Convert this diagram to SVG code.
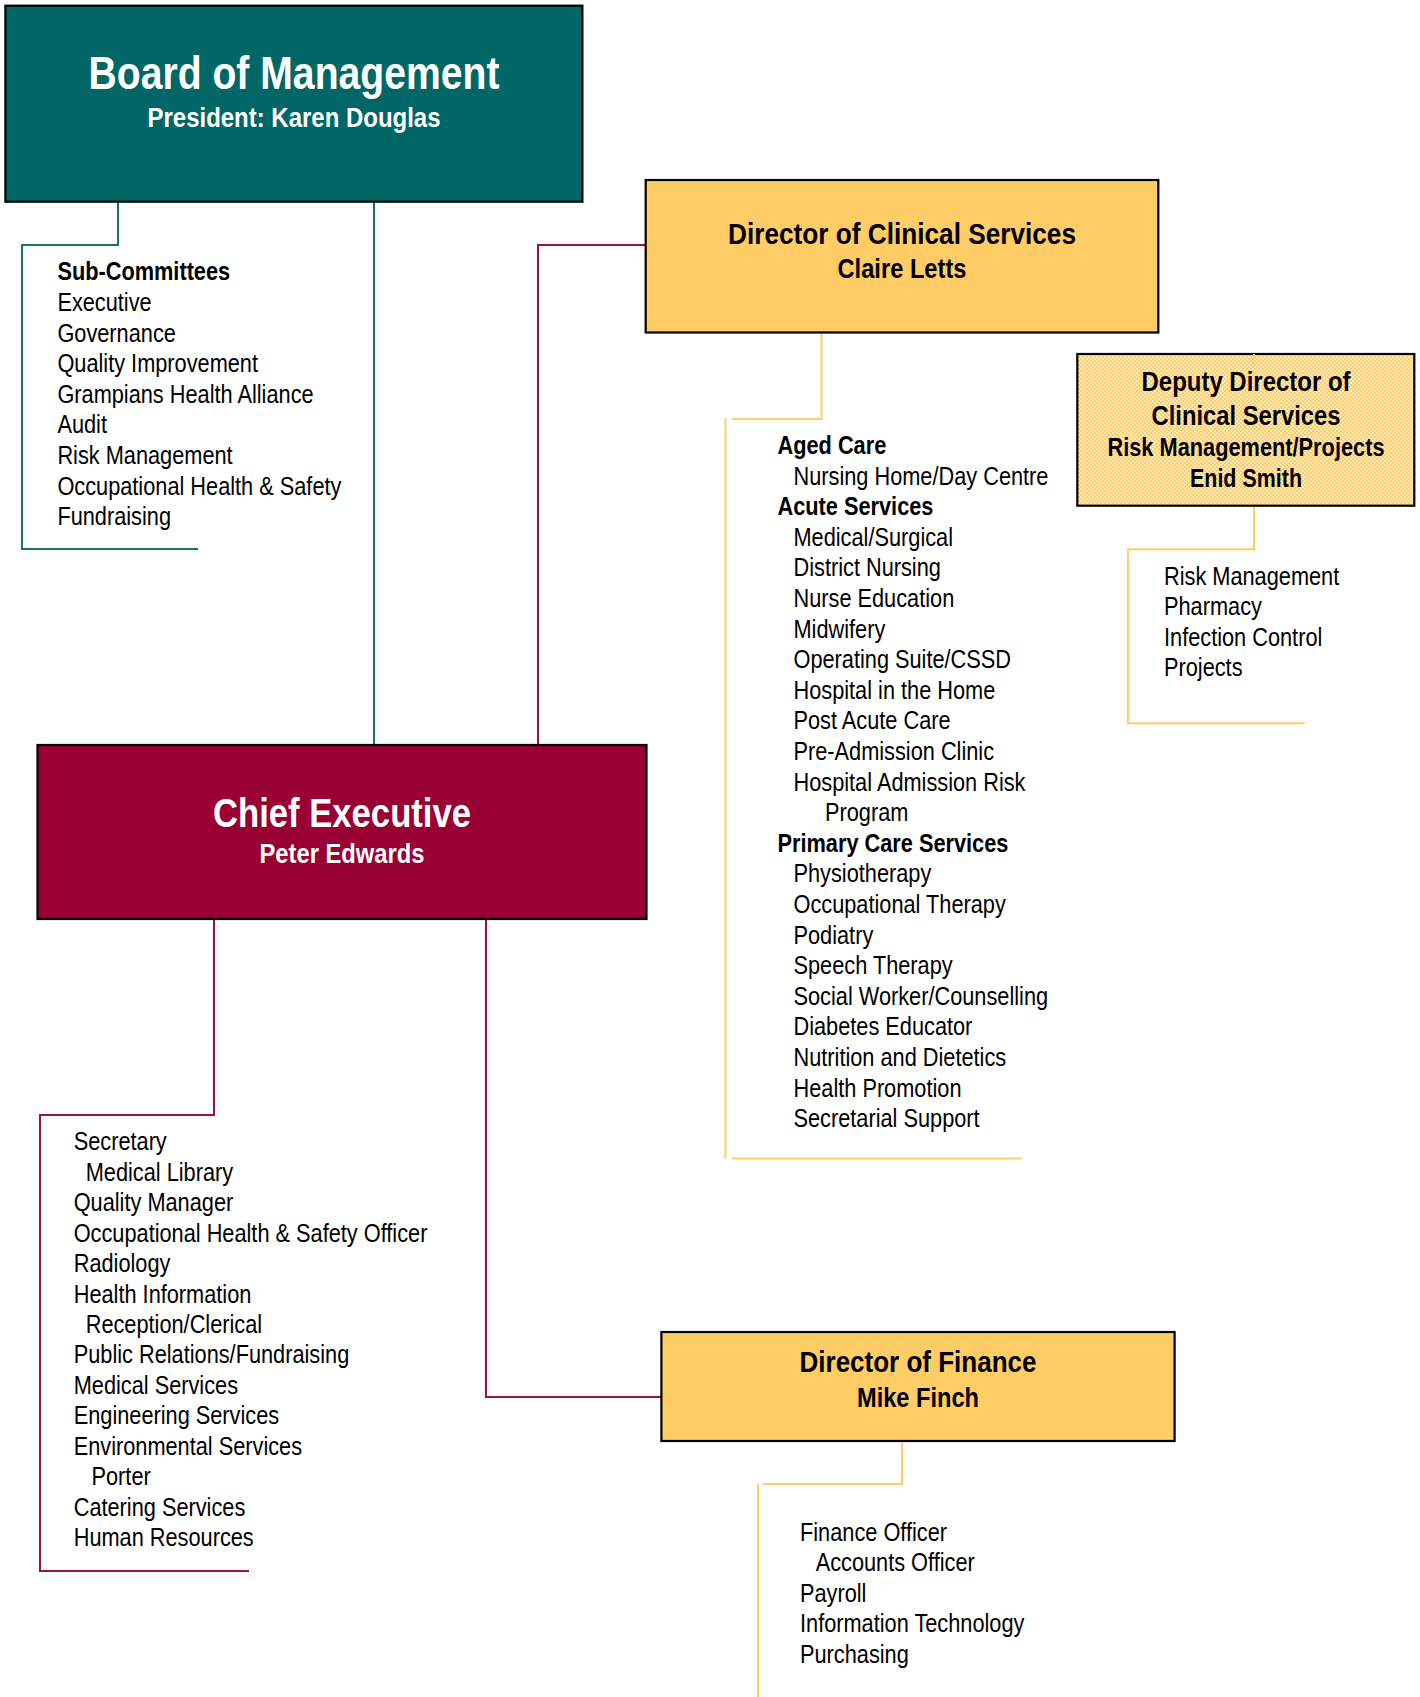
<svg xmlns="http://www.w3.org/2000/svg" width="1420" height="1697" viewBox="0 0 1420 1697">
<defs>
<pattern id="dots" width="4" height="4" patternUnits="userSpaceOnUse">
<rect width="4" height="4" fill="#FFCC66"/>
<rect x="0" y="0" width="2" height="2" fill="#FFEBC2"/>
<rect x="2" y="2" width="2" height="2" fill="#FFEBC2"/>
</pattern>
<style>
text{font-family:"Liberation Sans",Arial,sans-serif;}
.box{stroke:#000;stroke-width:2.2;}
.teal{fill:#006666;}
.red{fill:#990033;}
.yel{fill:#FFCC66;}
.wt{fill:#fff;font-weight:bold;text-anchor:middle;}
.bt{fill:#000;font-weight:bold;text-anchor:middle;}
.li{font-size:25px;fill:#000;}
.hd{font-weight:bold;}
.c{fill:none;stroke-width:2;}
.ct{stroke:#137272;}
.cr{stroke:#A0103E;}
.cy{stroke:#FFCC66;}
</style>
</defs>
<rect width="1420" height="1697" fill="#fff"/>

<g id="connectors">
<path class="c ct" d="M118 202 V245 H22 V549 H198"/>
<path class="c ct" d="M374 202 V745"/>
<path class="c cr" d="M538 745 V245 H646"/>
<path class="c cr" d="M214 919 V1115 H40 V1571 H249"/>
<path class="c cr" d="M486 919 V1397 H662"/>
<path class="c cy" d="M821.5 332.5 V419 H732"/>
<path class="c cy" d="M725.5 418 V1158.5"/>
<path class="c cy" d="M732 1158.5 H1021"/>
<path class="c cy" d="M1254 506 V549.3 H1128 V723.3 H1305"/>
<path class="c cy" d="M902 1441 V1484 H763"/>
<path class="c cy" d="M758 1484 V1697"/>
</g>

<g id="board">
<rect class="box teal" x="5.4" y="5.7" width="577" height="196"/>
<text class="wt" x="294" y="88.6" font-size="46" textLength="411" lengthAdjust="spacingAndGlyphs">Board of Management</text>
<text class="wt" x="294" y="126.8" font-size="27" textLength="293" lengthAdjust="spacingAndGlyphs">President: Karen Douglas</text>
</g>

<g id="subcommittees" transform="translate(57.4,0) scale(0.87,1)">
<text class="li hd" x="0" y="280.4">Sub-Committees</text>
<text class="li" x="0" y="311">Executive</text>
<text class="li" x="0" y="341.6">Governance</text>
<text class="li" x="0" y="372.2">Quality Improvement</text>
<text class="li" x="0" y="402.8">Grampians Health Alliance</text>
<text class="li" x="0" y="433.4">Audit</text>
<text class="li" x="0" y="464">Risk Management</text>
<text class="li" x="0" y="494.6">Occupational Health &amp; Safety</text>
<text class="li" x="0" y="525.2">Fundraising</text>
</g>

<g id="clinical">
<rect class="box yel" x="645.7" y="180" width="512.6" height="152.5"/>
<text class="bt" x="902" y="244.3" font-size="30" textLength="348" lengthAdjust="spacingAndGlyphs">Director of Clinical Services</text>
<text class="bt" x="902" y="277.9" font-size="27" textLength="129" lengthAdjust="spacingAndGlyphs">Claire Letts</text>
</g>

<g id="deputy">
<rect class="box" fill="url(#dots)" x="1077.3" y="354" width="337" height="151.7"/>
<text class="bt" x="1246" y="391" font-size="27.5" textLength="209" lengthAdjust="spacingAndGlyphs">Deputy Director of</text>
<text class="bt" x="1246" y="424.5" font-size="27.5" textLength="189" lengthAdjust="spacingAndGlyphs">Clinical Services</text>
<text class="bt" x="1246" y="456" font-size="25" textLength="277" lengthAdjust="spacingAndGlyphs">Risk Management/Projects</text>
<text class="bt" x="1246" y="486.5" font-size="25" textLength="112" lengthAdjust="spacingAndGlyphs">Enid Smith</text>
</g>
<path class="c cy" d="M1254 354 V365"/>

<g id="clinical-list" transform="translate(777.5,0) scale(0.87,1)">
<text class="li hd" x="0" y="454">Aged Care</text>
<text class="li" x="18.4" y="484.6">Nursing Home/Day Centre</text>
<text class="li hd" x="0" y="515.2">Acute Services</text>
<text class="li" x="18.4" y="545.8">Medical/Surgical</text>
<text class="li" x="18.4" y="576.4">District Nursing</text>
<text class="li" x="18.4" y="607">Nurse Education</text>
<text class="li" x="18.4" y="637.6">Midwifery</text>
<text class="li" x="18.4" y="668.2">Operating Suite/CSSD</text>
<text class="li" x="18.4" y="698.8">Hospital in the Home</text>
<text class="li" x="18.4" y="729.4">Post Acute Care</text>
<text class="li" x="18.4" y="760">Pre-Admission Clinic</text>
<text class="li" x="18.4" y="790.6">Hospital Admission Risk</text>
<text class="li" x="54.6" y="821.2">Program</text>
<text class="li hd" x="0" y="851.8">Primary Care Services</text>
<text class="li" x="18.4" y="882.4">Physiotherapy</text>
<text class="li" x="18.4" y="913">Occupational Therapy</text>
<text class="li" x="18.4" y="943.6">Podiatry</text>
<text class="li" x="18.4" y="974.2">Speech Therapy</text>
<text class="li" x="18.4" y="1004.8">Social Worker/Counselling</text>
<text class="li" x="18.4" y="1035.4">Diabetes Educator</text>
<text class="li" x="18.4" y="1066">Nutrition and Dietetics</text>
<text class="li" x="18.4" y="1096.6">Health Promotion</text>
<text class="li" x="18.4" y="1127.2">Secretarial Support</text>
</g>

<g id="deputy-list" transform="translate(1164,0) scale(0.87,1)">
<text class="li" x="0" y="585">Risk Management</text>
<text class="li" x="0" y="615.3">Pharmacy</text>
<text class="li" x="0" y="645.6">Infection Control</text>
<text class="li" x="0" y="676">Projects</text>
</g>

<g id="chief">
<rect class="box red" x="37.5" y="745" width="609" height="174"/>
<text class="wt" x="342" y="826.7" font-size="41" textLength="258" lengthAdjust="spacingAndGlyphs">Chief Executive</text>
<text class="wt" x="342" y="862.7" font-size="27" textLength="165" lengthAdjust="spacingAndGlyphs">Peter Edwards</text>
</g>

<g id="chief-list" transform="translate(73.7,0) scale(0.87,1)">
<text class="li" x="0" y="1150.3">Secretary</text>
<text class="li" x="13.8" y="1180.8">Medical Library</text>
<text class="li" x="0" y="1211.2">Quality Manager</text>
<text class="li" x="0" y="1241.7">Occupational Health &amp; Safety Officer</text>
<text class="li" x="0" y="1272.1">Radiology</text>
<text class="li" x="0" y="1302.6">Health Information</text>
<text class="li" x="13.8" y="1333">Reception/Clerical</text>
<text class="li" x="0" y="1363.5">Public Relations/Fundraising</text>
<text class="li" x="0" y="1394">Medical Services</text>
<text class="li" x="0" y="1424.4">Engineering Services</text>
<text class="li" x="0" y="1454.9">Environmental Services</text>
<text class="li" x="20.5" y="1485.3">Porter</text>
<text class="li" x="0" y="1515.8">Catering Services</text>
<text class="li" x="0" y="1546.3">Human Resources</text>
</g>

<g id="finance">
<rect class="box yel" x="661.4" y="1332" width="513.2" height="109"/>
<text class="bt" x="918" y="1372.3" font-size="30" textLength="237" lengthAdjust="spacingAndGlyphs">Director of Finance</text>
<text class="bt" x="918" y="1406.7" font-size="27" textLength="122" lengthAdjust="spacingAndGlyphs">Mike Finch</text>
</g>

<g id="finance-list" transform="translate(800,0) scale(0.87,1)">
<text class="li" x="0" y="1540.7">Finance Officer</text>
<text class="li" x="18" y="1571.2">Accounts Officer</text>
<text class="li" x="0" y="1601.7">Payroll</text>
<text class="li" x="0" y="1632.2">Information Technology</text>
<text class="li" x="0" y="1662.7">Purchasing</text>
</g>
</svg>
